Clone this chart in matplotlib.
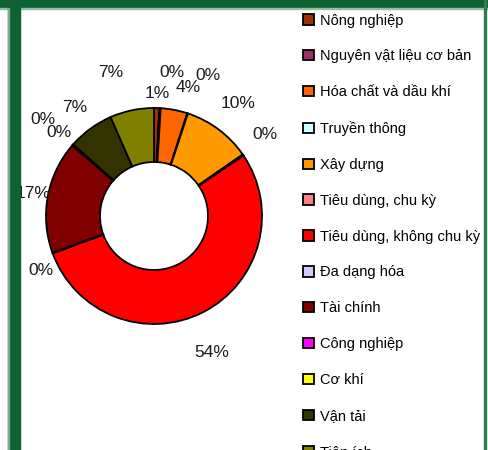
import numpy as np
import matplotlib
matplotlib.use("Agg")
import matplotlib.pyplot as plt
from matplotlib.patches import Rectangle

plt.rcParams['font.family'] = ['Liberation Sans', 'DejaVu Sans']

# sector weights (%)
sectors = ["Nông nghiệp", "Nguyên vật liệu cơ bản", "Hóa chất và dầu khí",
           "Truyền thông", "Xây dựng", "Tiêu dùng, chu kỳ",
           "Tiêu dùng, không chu kỳ", "Đa dạng hóa", "Tài chính",
           "Công nghiệp", "Cơ khí", "Vận tải", "Tiện ích"]
weights = [0.8, 0.2, 4.0, 0.1, 10.3, 0.2, 54.0, 0.1, 16.9, 0.1, 0.1, 6.9, 6.6]
colors = ["#993300", "#993366", "#FF6600", "#CCFFFF", "#FF9900", "#FF8080",
          "#FF0000", "#CCCCFF", "#800000", "#FF00FF", "#FFFF00", "#333300",
          "#808000"]

# how far out each percentage label sits (in outer radii)
label_dist = [1.13, 1.34, 1.23, 1.39, 1.30, 1.27, 1.37, 1.16, 1.14, 1.36, 1.17, 1.24, 1.39]
label_shift = [0, 4, 4, 3, 0, -2, 4, -6, 0, 0, 0, 0, -5]  # degrees

W, H = 488, 450
fig = plt.figure(figsize=(W / 100, H / 100), dpi=100)
fig.patch.set_facecolor("white")

cx, cy, R = 154, 216, 108
lim = 1.6
side = 2 * lim * R
ax = fig.add_axes([(cx - side / 2) / W, (H - cy - side / 2) / H, side / W, side / H])
ax.axis("off")

wedges, _ = ax.pie(weights, colors=colors, startangle=90, counterclock=False,
                   radius=1.0,
                   wedgeprops=dict(width=0.5, edgecolor="black", linewidth=1.3))
ax.set_xlim(-lim, lim)
ax.set_ylim(-lim, lim)

total = sum(weights)
for w, v, d, s in zip(wedges, weights, label_dist, label_shift):
    ang = np.deg2rad((w.theta1 + w.theta2) / 2 - s)
    ax.text(d * np.cos(ang), d * np.sin(ang), "%d%%" % round(v / total * 100),
            ha="center", va="center", fontsize=12.5, color="#1a1a1a")

fig.legend(wedges, sectors, loc="upper left",
           bbox_to_anchor=(303 / W, 1 - 13.5 / H), frameon=False,
           fontsize=10.5, handlelength=0.72, handleheight=0.72,
           handletextpad=0.42, labelspacing=1.5, borderpad=0,
           borderaxespad=0)

# green frame
green = "#0D6133"
fig.patches.append(Rectangle((0, 1 - 8 / H), 1, 8 / H, transform=fig.transFigure,
                             color=green, zorder=10))
fig.patches.append(Rectangle((0, 1 - 9 / H), 1, 1 / H, transform=fig.transFigure,
                             color="#8FBF9F", zorder=10))
fig.patches.append(Rectangle((8 / W, 0), 12 / W, 1, transform=fig.transFigure,
                             color=green, zorder=10))
fig.patches.append(Rectangle((8 / W, 0), 1 / W, 1 - 8 / H, transform=fig.transFigure,
                             color="#7FA88E", zorder=11))
fig.patches.append(Rectangle((484 / W, 0), 1.5 / W, 1, transform=fig.transFigure,
                             color="#2E7D4F", zorder=10))

fig.savefig("out.png", dpi=100)
